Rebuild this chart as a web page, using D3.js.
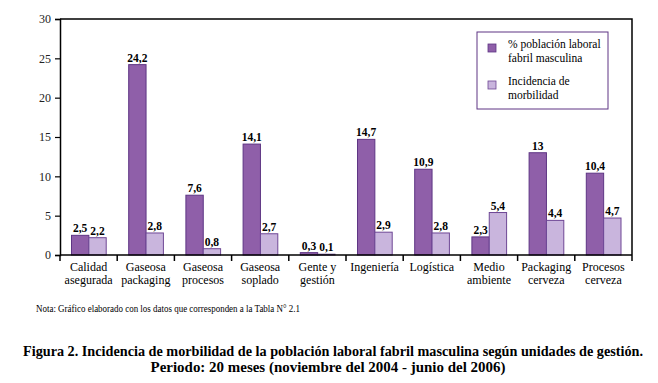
<!DOCTYPE html>
<html>
<head>
<meta charset="utf-8">
<script src="https://cdn.jsdelivr.net/npm/d3@7"></script>
</head>
<body style="margin:0; background:#fff">
<svg id="chart" width="658" height="383"></svg>
<script>
// Data
const categories = [
  ["Calidad", "asegurada"], ["Gaseosa", "packaging"], ["Gaseosa", "procesos"],
  ["Gaseosa", "soplado"], ["Gente y", "gestión"], ["Ingeniería"], ["Logística"],
  ["Medio", "ambiente"], ["Packaging", "cerveza"], ["Procesos", "cerveza"]
];
const poblacion = [2.5, 24.2, 7.6, 14.1, 0.3, 14.7, 10.9, 2.3, 13, 10.4];
const incidencia = [2.2, 2.8, 0.8, 2.7, 0.1, 2.9, 2.8, 5.4, 4.4, 4.7];
const seriesNames = [["% población laboral", "fabril masculina"], ["Incidencia de", "morbilidad"]];
const yTicks = [0, 5, 10, 15, 20, 25, 30];

const serif = "Liberation Serif";

function draw_chart(chartID) {
    const left = 60, right = 632, top = 19, bottom = 255;
    const fills = ["#8f5fa9", "#c9b5dd"];
    const strokes = ["#5e3584", "#6e4795"];

    const svg = d3.select(chartID);
    svg.selectAll("*").remove();

    const keys = categories.map((c, i) => i);
    const x0 = d3.scaleBand().domain(keys).range([left, right]).padding(0);
    const x1 = d3.scaleBand().domain([0, 1]).range([11.5, x0.bandwidth() - 11]);
    const y = d3.scaleLinear().domain([0, 30]).range([bottom, top]);

    // frame (top and right)
    svg.append("path")
        .attr("d", `M${left},${top}H${right}V${bottom}`)
        .attr("fill", "none").attr("stroke", "#000").attr("stroke-width", 1.5);

    // y axis, built by d3 then restyled
    const yAxis = svg.append("g")
        .attr("transform", `translate(${left},0)`)
        .call(d3.axisLeft(y).tickValues(yTicks).tickSize(5).tickPadding(4));
    yAxis.attr("font-family", null).attr("font-size", null);
    yAxis.select(".domain").attr("stroke-width", 1.5);
    yAxis.selectAll("line").attr("stroke-width", 1.2);
    yAxis.selectAll("text")
        .attr("font-family", serif).attr("font-size", 12).attr("fill", "#222");

    // bars and value labels
    const series = [poblacion, incidencia];
    series.forEach((vals, s) => {
        svg.append("g").selectAll("rect")
            .data(vals)
            .join("rect")
            .attr("x", (d, i) => x0(i) + x1(s))
            .attr("y", d => y(d))
            .attr("width", x1.bandwidth())
            .attr("height", d => bottom - y(d))
            .attr("fill", fills[s])
            .attr("stroke", strokes[s])
            .attr("stroke-width", 1);

        svg.append("g").selectAll("text")
            .data(vals)
            .join("text")
            .attr("x", (d, i) => x0(i) + x1(s) + x1.bandwidth() / 2)
            .attr("y", d => y(d) - 3)
            .attr("text-anchor", "middle")
            .attr("font-family", serif)
            .attr("font-size", 11.5)
            .attr("font-weight", "bold")
            .text(d => String(d).replace(".", ","));
    });

    // x axis line and category ticks
    svg.append("line")
        .attr("x1", left).attr("x2", right).attr("y1", bottom).attr("y2", bottom)
        .attr("stroke", "#000").attr("stroke-width", 1.5);
    const bounds = keys.map(k => x0(k)).concat([right]);
    svg.append("g").selectAll("line")
        .data(bounds)
        .join("line")
        .attr("x1", d => d).attr("x2", d => d)
        .attr("y1", bottom).attr("y2", bottom + 6)
        .attr("stroke", "#000").attr("stroke-width", 1.5);

    // category labels, one or two lines
    const cat = svg.append("g").selectAll("text")
        .data(categories)
        .join("text")
        .attr("x", (d, i) => x0(i) + x0.bandwidth() / 2)
        .attr("y", bottom + 16)
        .attr("text-anchor", "middle")
        .attr("font-family", serif)
        .attr("font-size", 12);
    cat.each(function(lines) {
        d3.select(this).selectAll("tspan")
            .data(lines)
            .join("tspan")
            .attr("x", d3.select(this).attr("x"))
            .attr("dy", (d, j) => j === 0 ? 0 : 12.5)
            .text(d => d);
    });

    // legend
    const lg = svg.append("g").attr("transform", "translate(477,32)");
    lg.append("rect")
        .attr("width", 131).attr("height", 77)
        .attr("fill", "#fff").attr("stroke", "#5e3584").attr("stroke-width", 1);
    seriesNames.forEach((lines, s) => {
        const g = lg.append("g").attr("transform", `translate(0,${s * 37})`);
        g.append("rect")
            .attr("x", 11).attr("y", 12).attr("width", 8).attr("height", 8)
            .attr("fill", fills[s]).attr("stroke", strokes[s]).attr("stroke-width", 0.8);
        g.append("text")
            .attr("x", 31).attr("y", 16)
            .attr("font-family", serif)
            .attr("font-size", 11.5)
            .selectAll("tspan")
            .data(lines)
            .join("tspan")
            .attr("x", 31)
            .attr("dy", (d, j) => j === 0 ? 0 : 14)
            .text(d => d);
    });

    // note and caption
    svg.append("text")
        .attr("x", 36).attr("y", 312)
        .attr("font-family", serif)
        .attr("font-size", 10)
        .attr("textLength", 264).attr("lengthAdjust", "spacingAndGlyphs")
        .text("Nota: Gráfico elaborado con los datos que corresponden a la Tabla N° 2.1");

    svg.append("text")
        .attr("x", 333).attr("y", 356)
        .attr("text-anchor", "middle")
        .attr("textLength", 620).attr("lengthAdjust", "spacingAndGlyphs")
        .attr("font-family", serif)
        .attr("font-size", 15).attr("font-weight", "bold")
        .text("Figura 2. Incidencia de morbilidad de la población laboral fabril masculina según unidades de gestión.");
    svg.append("text")
        .attr("x", 328).attr("y", 372)
        .attr("text-anchor", "middle")
        .attr("textLength", 355).attr("lengthAdjust", "spacingAndGlyphs")
        .attr("font-family", serif)
        .attr("font-size", 15).attr("font-weight", "bold")
        .text("Periodo: 20 meses (noviembre del 2004 - junio del 2006)");
}

draw_chart("#chart");
</script>
</body>
</html>
